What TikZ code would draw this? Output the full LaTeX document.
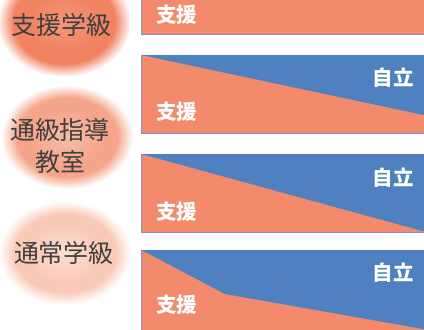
\documentclass[tikz,border=0pt]{standalone}
\usepackage{fontspec}
\newfontfamily\cjk{Noto Sans CJK JP}
\usetikzlibrary{shapes.geometric}
\definecolor{salmon}{RGB}{243,138,107}
\definecolor{steel}{RGB}{79,129,193}
\definecolor{edgeline}{RGB}{128,146,196}
\definecolor{txtgray}{RGB}{64,64,64}
\definecolor{eAin}{RGB}{244,150,122}
\definecolor{eAout}{RGB}{241,130,98}
\definecolor{eBin}{RGB}{248,188,168}
\definecolor{eBout}{RGB}{245,165,138}
\definecolor{eCin}{RGB}{252,222,210}
\definecolor{eCout}{RGB}{250,202,184}
\pgfdeclareradialshading{softA}{\pgfpoint{0bp}{0bp}}{color(0bp)=(eAin); color(14bp)=(eAout); color(19bp)=(eAout); color(25bp)=(white); color(50bp)=(white)}
\pgfdeclareradialshading{softB}{\pgfpoint{0bp}{0bp}}{color(0bp)=(eBin); color(14bp)=(eBout); color(19bp)=(eBout); color(25bp)=(white); color(50bp)=(white)}
\pgfdeclareradialshading{softC}{\pgfpoint{0bp}{0bp}}{color(0bp)=(eCin); color(14bp)=(eCout); color(19bp)=(eCout); color(25bp)=(white); color(50bp)=(white)}
\tikzset{
  lefttext/.style={font=\cjk\fontsize{25pt}{32pt}\selectfont, text=txtgray, align=center, inner sep=0pt},
  barlabel/.style={font=\cjk\bfseries\fontsize{20.5pt}{22pt}\selectfont, text=white, inner sep=0pt},
  panel/.style={fill=salmon, draw=edgeline, line width=0.6pt},
}
\begin{document}
\begin{tikzpicture}[x=1pt,y=-1pt]
\useasboundingbox (0,0) rectangle (424,330);
\fill[white] (0,0) rectangle (424,330);
% soft ellipses
\shade[shading=softA] (64,22) ellipse [x radius=67pt, y radius=55pt];
\shade[shading=softB] (67,137) ellipse [x radius=66pt, y radius=52pt];
\shade[shading=softC] (65,253) ellipse [x radius=66pt, y radius=52pt];
\node[lefttext] (e1) at (62,25) {支援学級};
\node[lefttext] (e2) at (60,146) {通級指導\\教室};
\node[lefttext] (e3) at (64,253) {通常学級};
% panel 1
\draw[panel] (141,-2) rectangle (426,34);
% panel 2
\draw[panel] (141,55) rectangle (426,133);
\fill[steel] (141.3,55) -- (426,55) -- (426,115.5) -- cycle;
% panel 3
\draw[panel] (141,154) rectangle (426,232);
\fill[steel] (141.3,154) -- (426,154) -- (426,232) -- cycle;
% panel 4
\draw[panel] (141,250) rectangle (426,332);
\fill[steel] (141.3,250) -- (426,250) -- (426,329.5) -- (225,294) -- cycle;
% labels
\node[barlabel] (s1) at (177,15) {支援};
\node[barlabel] (s2) at (177,112) {支援};
\node[barlabel] (j2) at (393,78) {自立};
\node[barlabel] (s3) at (177,212) {支援};
\node[barlabel] (j3) at (393,178) {自立};
\node[barlabel] (s4) at (177,305) {支援};
\node[barlabel] (j4) at (393,273) {自立};
\end{tikzpicture}
\end{document}
